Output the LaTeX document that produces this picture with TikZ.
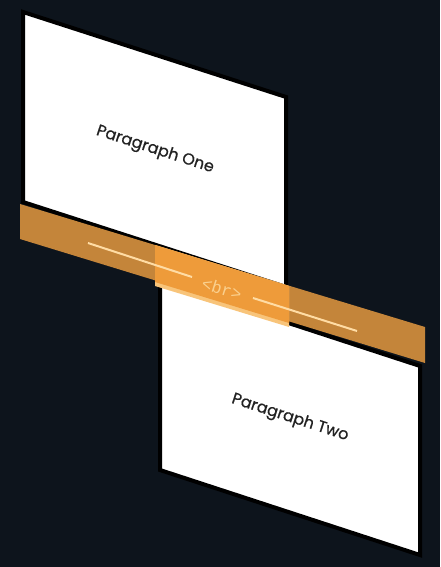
\documentclass[tikz,border=0pt]{standalone}
\usepackage{fontspec}
\setmainfont{Poppins}
\newfontfamily\labelfont[FakeBold=0.7]{Poppins}
\newfontfamily\codefont{Liberation Mono}
\definecolor{bg}{HTML}{0D141C}
\definecolor{banddark}{HTML}{C4853A}
\definecolor{bandmid}{HTML}{EE9B3A}
\definecolor{bandlight}{HTML}{F8C47A}
\definecolor{cream}{HTML}{FFDCA4}
\definecolor{txt}{HTML}{222222}
\definecolor{codetxt}{HTML}{FAD08E}
\tikzset{
  card/.style={fill=white, draw=black, line width=4pt, line join=miter},
  cardlabel/.style={font=\labelfont\fontsize{16}{19}\selectfont, text=txt, rotate=-18},
  brline/.style={draw=cream, line width=2pt},
  codelabel/.style={font=\codefont\fontsize{17}{20}\selectfont, text=codetxt, rotate=-17.5}
}
\begin{document}
\begin{tikzpicture}[x=1pt,y=-1pt]
\useasboundingbox (0,0) rectangle (440,567);
\fill[bg] (0,0) rectangle (440,567);
% card two
\draw[card] (160,281) -- (420,366) -- (420,555) -- (160,470) -- cycle;
% card one
\draw[card] (23,12) -- (286,97) -- (286,287) -- (23,202) -- cycle;
% band
\fill[banddark] (20,204) -- (425,327) -- (425,363) -- (20,239) -- cycle;
\fill[bandlight] (155,245) -- (289,286) -- (289,327) -- (155,286) -- cycle;
\fill[bandmid] (155,245) -- (289,286) -- (289,323) -- (155,282) -- cycle;
% lines and label
\coordinate (l1a) at (88,243);
\coordinate (l1b) at (192,277);
\coordinate (l2a) at (253,298);
\coordinate (l2b) at (357,331);
\draw[brline] (l1a) -- (l1b);
\draw[brline] (l2a) -- (l2b);
\node[codelabel] (br) at (222,289) {<br>};
\node[cardlabel] (p1) at (155,150) {Paragraph One};
\node[cardlabel] (p2) at (290,418) {Paragraph Two};
\end{tikzpicture}
\end{document}
